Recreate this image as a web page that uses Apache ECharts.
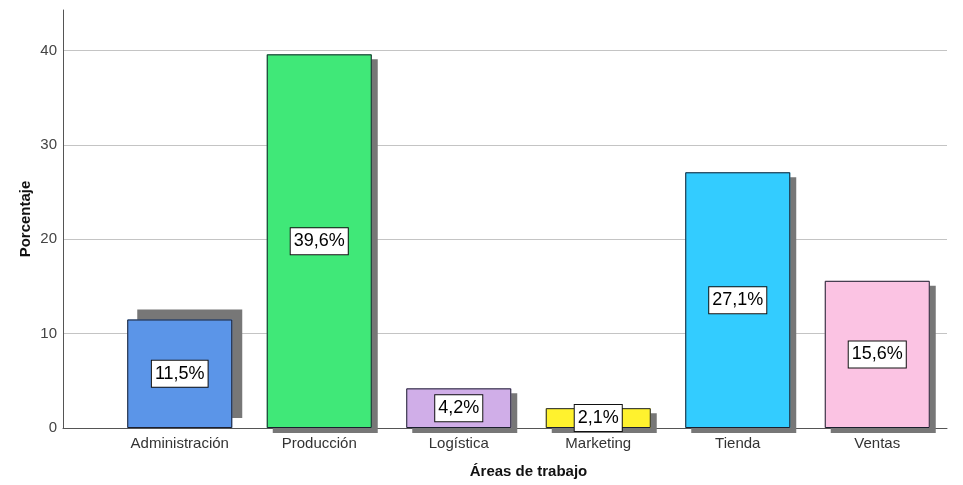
<!DOCTYPE html>
<html>
<head>
<meta charset="utf-8">
<title>Áreas de trabajo</title>
<script src="https://cdn.jsdelivr.net/npm/echarts@6/dist/echarts.min.js"></script>
<style>
  html, body { margin: 0; padding: 0; background: #fff; }
  #chart { width: 963px; height: 485px; }
</style>
</head>
<body>
<div id="chart"></div>
<script>
// Work areas and the share of staff in each (percent)
const categories = ['Administración', 'Producción', 'Logística', 'Marketing', 'Tienda', 'Ventas'];
const percentages = [11.5, 39.6, 4.2, 2.1, 27.1, 15.6];
const barColors = ['#5b95e8', '#40e878', '#d0aee8', '#fff22e', '#33ccff', '#fbc3e3'];
// Drop-shadow offsets per bar (the first one sits up and to the right)
const shadowDx = [10, 6, 6, 6, 6, 6];
const shadowDy = [-10, 5, 5, 5, 5, 5];

const yMax = 44.3;
const FONT = '"Liberation Sans", Arial, sans-serif';

// Filled bars carrying the drop shadow (no outline, so the shadow stays a solid block)
const fillData = percentages.map((v, i) => ({
  value: v,
  itemStyle: {
    color: barColors[i],
    borderWidth: 0,
    shadowColor: '#777777',
    shadowBlur: 0,
    shadowOffsetX: shadowDx[i],
    shadowOffsetY: shadowDy[i]
  }
}));
// Outline layer drawn on top of the filled bars, with the value labels
const outlineData = percentages.map(v => ({ value: v }));

const chart = echarts.init(document.getElementById('chart'), null, { renderer: 'canvas' });
chart.setOption({
  animation: false,
  backgroundColor: '#ffffff',
  grid: [
    // frame grid: y axis, gridlines and baseline
    { left: 63, right: 16, top: 10, bottom: 57, outerBoundsMode: 'none', containLabel: false },
    // bar grid: category bands
    { left: 110, right: 16, top: 10, bottom: 57, outerBoundsMode: 'none', containLabel: false }
  ],
  xAxis: [
    {
      gridIndex: 0, type: 'value', min: 0, max: 1,
      axisLine: { show: true, lineStyle: { color: '#555', width: 1 } },
      axisTick: { show: false }, axisLabel: { show: false }, splitLine: { show: false }
    },
    {
      gridIndex: 1, type: 'category', data: categories,
      axisLine: { show: false }, axisTick: { show: false },
      axisLabel: { color: '#333', fontSize: 15, fontFamily: FONT, margin: 8 },
      name: 'Áreas de trabajo', nameLocation: 'middle', nameGap: 36, nameMoveOverlap: false,
      nameTextStyle: { color: '#111', fontSize: 15, fontWeight: 'bold', fontFamily: FONT }
    }
  ],
  yAxis: [
    {
      gridIndex: 0, type: 'value', min: 0, max: yMax, interval: 10,
      axisLine: { show: true, lineStyle: { color: '#555', width: 1 } },
      axisTick: { show: false },
      axisLabel: {
        color: '#444', fontSize: 15, fontFamily: FONT, margin: 6,
        formatter: v => (v % 10 === 0 ? String(v) : '')
      },
      splitLine: { show: true, showMaxLine: false, lineStyle: { color: '#c4c4c4', width: 1 } },
      name: 'Porcentaje', nameLocation: 'middle', nameGap: 30, nameMoveOverlap: false,
      nameTextStyle: { color: '#111', fontSize: 15, fontWeight: 'bold', fontFamily: FONT }
    },
    { gridIndex: 1, type: 'value', min: 0, max: yMax, show: false }
  ],
  series: [
    {
      type: 'bar',
      xAxisIndex: 1,
      yAxisIndex: 1,
      barWidth: 105,
      z: 2,
      data: fillData
    },
    {
      type: 'bar',
      xAxisIndex: 1,
      yAxisIndex: 1,
      barWidth: 105,
      barGap: '-100%',
      z: 3,
      data: outlineData,
      itemStyle: { color: 'transparent', borderColor: '#1b1f2e', borderWidth: 1 },
      label: {
        show: true,
        position: 'inside',
        formatter: p => p.value.toFixed(1).replace('.', ',') + '%',
        color: '#000',
        fontSize: 18,
        fontFamily: FONT,
        lineHeight: 19,
        backgroundColor: '#ffffff',
        borderColor: '#111',
        borderWidth: 1,
        padding: [4, 3, 3, 3]
      }
    }
  ]
});
</script>
</body>
</html>
